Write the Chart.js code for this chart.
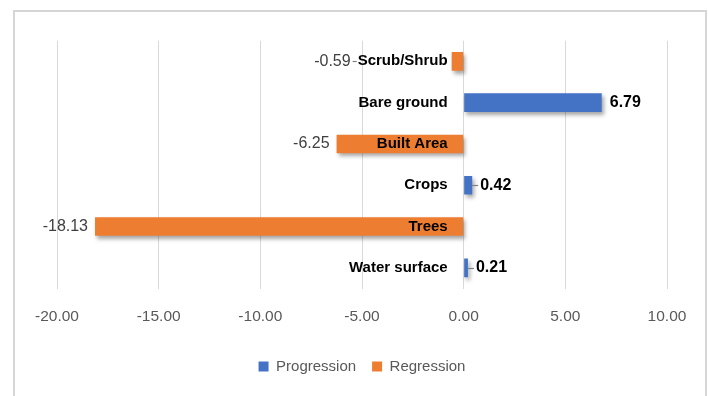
<!DOCTYPE html>
<html>
<head>
<meta charset="utf-8">
<script src="https://cdn.jsdelivr.net/npm/chart.js@4/dist/chart.umd.min.js"></script>
<style>
  html, body { margin: 0; padding: 0; background: #ffffff; }
  canvas { display: block; }
</style>
</head>
<body>
<canvas id="chart" width="708" height="396"></canvas>
<script>
// Land cover change by class (%)
const categories  = ['Scrub/Shrub', 'Bare ground', 'Built Area', 'Crops', 'Trees', 'Water surface'];
const progression = [null, 6.79, null, 0.42, null, 0.21];
const regression  = [-0.59, null, -6.25, null, -18.13, null];
const seriesNames = ['Progression', 'Regression'];
const xTickValues = [-20, -15, -10, -5, 0, 5, 10];

const FONT = '"Liberation Sans", Arial, sans-serif';
const BLUE = '#4472C4';
const ORANGE = '#ED7D31';

// Frame around the chart (left, top, right edges)
const framePlugin = {
  id: 'frame',
  beforeDraw(chart) {
    const { ctx, width } = chart;
    ctx.save();
    ctx.strokeStyle = '#d6d6d6';
    ctx.lineWidth = 2;
    ctx.beginPath();
    ctx.moveTo(14, chart.height);
    ctx.lineTo(14, 11);
    ctx.lineTo(width - 2, 11);
    ctx.lineTo(width - 2, chart.height);
    ctx.stroke();
    ctx.restore();
  }
};

// Soft drop shadow under the bars
const shadowPlugin = {
  id: 'barShadow',
  beforeDatasetDraw(chart) {
    const ctx = chart.ctx;
    ctx.save();
    ctx.shadowColor = 'rgba(0,0,0,0.35)';
    ctx.shadowBlur = 4;
    ctx.shadowOffsetX = 2;
    ctx.shadowOffsetY = 3;
  },
  afterDatasetDraw(chart) {
    chart.ctx.restore();
  }
};

function leader(ctx, x1, x2, y) {
  if (x2 <= x1) return;
  ctx.save();
  ctx.strokeStyle = '#7f7f7f';
  ctx.lineWidth = 1.2;
  ctx.beginPath();
  ctx.moveTo(x1, Math.round(y) + 0.5);
  ctx.lineTo(x2, Math.round(y) + 0.5);
  ctx.stroke();
  ctx.restore();
}

// Category names beside the zero line, and value labels at the bar ends
const labelPlugin = {
  id: 'barLabels',
  afterDatasetsDraw(chart) {
    const { ctx } = chart;
    const xs = chart.scales.x;
    const ys = chart.scales.y;
    const zeroX = xs.getPixelForValue(0);
    const catRight = zeroX - 16;
    const catLeft = [];

    ctx.save();
    ctx.textBaseline = 'middle';
    ctx.font = 'bold 15px ' + FONT;
    ctx.fillStyle = '#000000';
    ctx.textAlign = 'right';
    categories.forEach((name, i) => {
      const y = ys.getPixelForValue(i);
      ctx.fillText(name, catRight, y);
      catLeft[i] = catRight - ctx.measureText(name).width;
    });

    chart.data.datasets.forEach((ds, di) => {
      const meta = chart.getDatasetMeta(di);
      meta.data.forEach((bar, i) => {
        const v = ds.data[i];
        if (v === null || v === undefined) return;
        const txt = v.toFixed(2);
        const y = bar.y;
        if (v >= 0) {
          ctx.font = 'bold 16px ' + FONT;
          ctx.fillStyle = '#000000';
          ctx.textAlign = 'left';
          const lx = bar.x + 8;
          ctx.fillText(txt, lx, y);
          if (Math.abs(v) < 1) leader(ctx, bar.x, lx - 2, y);
        } else {
          ctx.font = '16px ' + FONT;
          ctx.fillStyle = '#404040';
          ctx.textAlign = 'right';
          const edge = Math.min(bar.x, catLeft[i]);
          const rx = edge - 7;
          ctx.fillText(txt, rx, y);
          if (Math.abs(v) < 1) leader(ctx, rx + 2, catLeft[i] - 1, y);
        }
      });
    });
    ctx.restore();
  }
};

new Chart(document.getElementById('chart'), {
  type: 'bar',
  data: {
    labels: categories,
    datasets: [
      { label: seriesNames[0], data: progression, backgroundColor: BLUE, borderWidth: 0 },
      { label: seriesNames[1], data: regression, backgroundColor: ORANGE, borderWidth: 0 }
    ]
  },
  options: {
    indexAxis: 'y',
    responsive: false,
    animation: false,
    devicePixelRatio: 1,
    grouped: false,
    categoryPercentage: 0.9,
    barPercentage: 0.5,
    layout: { padding: { left: 57, right: 41, top: 40.7, bottom: 12 } },
    scales: {
      x: {
        min: xTickValues[0],
        max: xTickValues[xTickValues.length - 1],
        afterBuildTicks(scale) { scale.ticks = xTickValues.map(v => ({ value: v })); },
        afterFit(scale) { scale.height -= 1.5; },
        grid: { color: '#d9d9d9', lineWidth: 1, drawTicks: false },
        border: { display: false },
        ticks: {
          padding: 18.7,
          color: '#595959',
          font: { family: FONT, size: 15.5 },
          callback: (v) => Number(v).toFixed(2)
        }
      },
      y: {
        display: false,
        grid: { display: false }
      }
    },
    plugins: {
      legend: {
        position: 'bottom',
        labels: {
          boxWidth: 10,
          boxHeight: 10,
          padding: 16,
          color: '#595959',
          font: { family: FONT, size: 15 }
        }
      },
      tooltip: { enabled: false }
    }
  },
  plugins: [framePlugin, shadowPlugin, labelPlugin]
});
</script>
</body>
</html>
